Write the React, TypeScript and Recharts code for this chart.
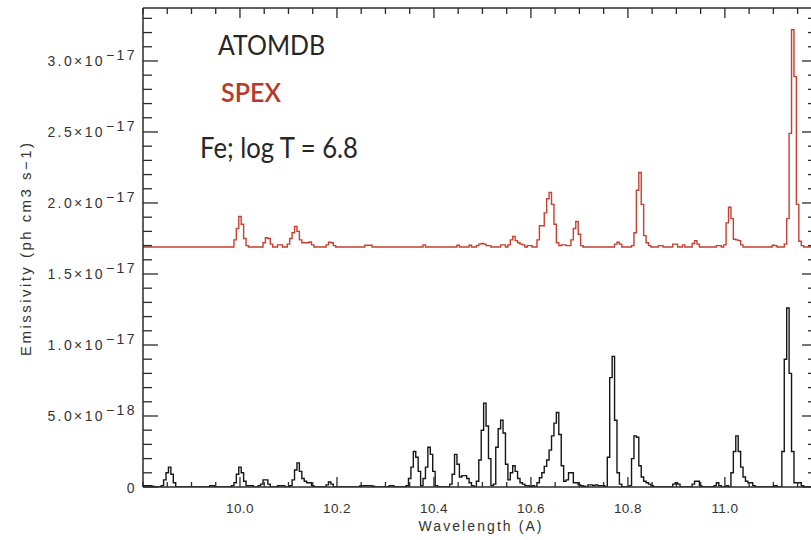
import React from "react"
import { LineChart, Line, XAxis, YAxis } from "recharts"

// spectra are binned on a regular wavelength grid (Angstrom)
const WL_START = 9.8
const WL_STEP = 0.005

// emissivity in units of 1e-18 ph cm3 s-1, one row per 0.1 A (20 bins)
const ATOMDB = [
  // 9.80
  0.1, 0.1, 0.1, 0.1, 0.05, 0, 0, 0, 0.1, 0.5, 1.0, 1.4, 0.9, 0.3, 0, 0, 0, 0, 0, 0,
  // 9.90
  0, 0, 0, 0, 0, 0, 0, 0, 0.1, 0.1, 0, 0, 0, 0, 0, 0, 0, 0.1, 0.3, 0.9,
  // 10.00
  1.4, 1.0, 0.4, 0.1, 0.1, 0.1, 0, 0, 0.1, 0.2, 0.5, 0.5, 0.2, 0, 0, 0, 0.1, 0.1, 0.1, 0,
  // 10.10
  0, 0.1, 0.5, 1.2, 1.7, 1.1, 0.6, 0.4, 0.3, 0.3, 0.1, 0, 0, 0, 0, 0, 0.15, 0.35, 0.2, 0,
  // 10.20
  0, 0, 0, 0, 0, 0, 0, 0, 0, 0, 0.1, 0.1, 0.1, 0.1, 0.1, 0.05, 0, 0, 0, 0,
  // 10.30
  0, 0, 0.1, 0.1, 0, 0, 0, 0, 0, 0.1, 0.6, 1.4, 2.5, 2.1, 1.1, 0.1, 0.6, 1.4, 2.8, 2.3,
  // 10.40
  1.1, 0.1, 0, 0, 0, 0, 0, 0.2, 0.9, 2.3, 1.6, 0.7, 0.8, 0.8, 0.6, 0.3, 0.1, 0, 0.4, 1.9,
  // 10.50
  4.0, 5.9, 4.3, 2.0, 0.1, 0.2, 2.8, 4.1, 4.7, 3.8, 1.6, 0.5, 1.0, 1.5, 1.1, 0.6, 0.3, 0.2, 0.1, 0.1,
  // 10.60
  0, 0.1, 0, 0.3, 0.65, 1.0, 1.45, 1.9, 2.6, 3.6, 4.5, 5.25, 3.7, 1.5, 0.4, 0.5, 1.0, 1.0, 0.3, 0.3,
  // 10.70
  0.15, 0.1, 0.05, 0, 0.15, 0.15, 0.1, 0.15, 0.1, 0.1, 0.1, 0, 2.1, 7.7, 9.2, 4.7, 1.0, 0.2, 0, 0,
  // 10.80
  0, 0.1, 2.0, 3.6, 3.5, 1.5, 0.7, 0.4, 0.3, 0.2, 0.1, 0, 0, 0, 0, 0, 0, 0, 0, 0.2,
  // 10.90
  0.3, 0.2, 0, 0, 0, 0, 0, 0.2, 0.4, 0.4, 0.1, 0, 0, 0, 0, 0, 0.1, 0.3, 0.1, 0,
  // 11.00
  0, 0.1, 0, 1.0, 2.5, 3.6, 2.5, 1.4, 0.7, 0.4, 0.3, 0.3, 0.1, 0, 0, 0, 0, 0, 0, 0,
  // 11.10
  0, 0.1, 0, 0, 2.5, 9.0, 12.6, 8.0, 2.5, 0.3, 0.3, 0.3, 0.1, 0, 0, 0, 0, 0, 0,
]

const SPEX = [
  // 9.80
  0, 0, 0, 0, 0, 0, 0, 0, 0, 0, 0, 0, 0, 0, 0, 0, 0, 0, 0, 0,
  // 9.90
  0, 0, 0, 0, 0, 0, 0, 0, 0, 0, 0, 0, 0, 0, 0, 0, 0, 0, 0.5, 1.3,
  // 10.00
  2.15, 1.6, 0.6, 0.1, 0, 0, 0, 0, 0, 0, 0.3, 0.65, 0.6, 0.2, 0, 0, 0.15, 0.15, 0, 0,
  // 10.10
  0.2, 0.6, 1.0, 1.45, 1.1, 0.5, 0.3, 0.3, 0.3, 0.35, 0.15, 0, 0, 0, 0, 0, 0.15, 0.33, 0.3, 0.1,
  // 10.20
  0, 0, 0, 0, 0, 0, 0, 0, 0, 0, 0, 0, 0.12, 0.12, 0.12, 0, 0, 0, 0, 0,
  // 10.30
  0, 0, 0, 0, 0, 0, 0, 0, 0, 0, 0, 0, 0, 0, 0, 0, 0.15, 0, 0, 0,
  // 10.40
  0, 0, 0, 0, 0, 0, 0, 0, 0, 0, 0.12, 0, 0, 0, 0, 0.12, 0, 0, 0.1, 0.2,
  // 10.50
  0.25, 0.2, 0.1, 0.1, 0, 0, 0, 0, 0.15, 0.15, 0, 0.15, 0.5, 0.75, 0.45, 0.3, 0.2, 0.15, 0, 0.1,
  // 10.60
  0.1, 0, 0, 0.5, 1.5, 1.5, 2.4, 3.4, 3.85, 3.0, 1.6, 0.3, 0.1, 0.15, 0.15, 0.1, 0.1, 0.5, 1.3, 1.8,
  // 10.70
  0.9, 0.1, 0, 0, 0, 0, 0, 0, 0, 0, 0, 0, 0, 0, 0, 0.2, 0.33, 0.2, 0, 0,
  // 10.80
  0, 0, 0.1, 1.0, 4.0, 5.25, 3.0, 0.8, 0.3, 0.1, 0, 0, 0, 0.1, 0.1, 0, 0, 0, 0, 0.2,
  // 10.90
  0.2, 0, 0, 0.15, 0, 0, 0, 0.25, 0.45, 0.2, 0, 0, 0, 0, 0, 0, 0, 0.1, 0.1, 0,
  // 11.00
  0.15, 1.7, 2.8, 2.0, 0.55, 0.5, 0.45, 0.15, 0, 0, 0, 0, 0, 0, 0, 0, 0, 0, 0, 0,
  // 11.10
  0.12, 0.1, 0, 0, 0, 0.2, 2.0, 8.0, 15.3, 12.0, 3.0, 0.4, 0.1, 0, 0, 0, 0, 0, 0,
]

// SPEX is drawn shifted up so the two spectra don't overlap
const SPEX_OFFSET = 16.9

const X_TICKS = [10.0, 10.2, 10.4, 10.6, 10.8, 11.0]
const Y_TICKS = [0, 5, 10, 15, 20, 25, 30] // 1e-18 units

const X_DOMAIN = [9.8, 11.19]
const Y_DOMAIN = [0, 33.73]

const AXIS = "#2b2b2b"
const LABEL = "#333"
const BLACK = "#161616"
const RED = "#c5402f"

const data = ATOMDB.map((v, i) => ({
  wl: +(WL_START + i * WL_STEP).toFixed(3),
  atomdb: v,
  spex: SPEX[i] + SPEX_OFFSET,
}))

// minor ticks every 0.05 A and every 1e-18
const xMinor = Array.from({ length: 28 }, (_, i) => +(9.8 + i * 0.05).toFixed(2))
const yMinor = Array.from({ length: 34 }, (_, i) => i)

const isMajorX = (v: number) => X_TICKS.some((t) => Math.abs(t - v) < 1e-6)

function yTickText(v: number): [string, string] {
  if (v === 0) return ["0", ""]
  if (v < 10) return [`${v.toFixed(1)}×10`, "−18"]
  return [`${(v / 10).toFixed(1)}×10`, "−17"]
}

const BottomTick = ({ x, y, payload }: any) => {
  const major = isMajorX(payload.value)
  return (
    <g>
      <line x1={x} x2={x} y1={y} y2={y - (major ? 10 : 5)} stroke={AXIS} strokeWidth={1.3} />
      {major && (
        <text x={x} y={y + 26} textAnchor="middle" fontSize={13.5} fill={LABEL} fontFamily="Liberation Sans" letterSpacing={0.4}>
          {payload.value.toFixed(1)}
        </text>
      )}
    </g>
  )
}

const TopTick = ({ x, y, payload }: any) => {
  const major = isMajorX(payload.value)
  return <line x1={x} x2={x} y1={y} y2={y + (major ? 10 : 6)} stroke={AXIS} strokeWidth={1.3} />
}

const LeftTick = ({ x, y, payload }: any) => {
  const v = payload.value
  const major = Y_TICKS.includes(v)
  const [main, sup] = yTickText(v)
  return (
    <g>
      <line x1={x} x2={x + (major ? 15 : 9)} y1={y} y2={y} stroke={AXIS} strokeWidth={1.3} />
      {major && (
        <text x={x - 6} y={y + 5.5} textAnchor="end" fontSize={14} fill={LABEL} fontFamily="Liberation Sans" letterSpacing={2.4}>
          {main}
          {sup && <tspan dy={-6.7} dx={1}>{sup}</tspan>}
        </text>
      )}
    </g>
  )
}

const RightTick = ({ x, y, payload }: any) => {
  const major = Y_TICKS.includes(payload.value)
  return <line x1={x} x2={x - (major ? 15 : 9)} y1={y} y2={y} stroke={AXIS} strokeWidth={1.3} />
}

export default function App() {
  return (
    <div style={{ position: "relative", width: 811, height: 540, overflow: "hidden", background: "#fff" }}>
      <style>{"body{margin:0}"}</style>
      <LineChart width={827} height={540} data={data} margin={{ top: 7, right: 0, bottom: 0, left: 0 }}>
        <XAxis
          xAxisId="bottom"
          dataKey="wl"
          type="number"
          domain={X_DOMAIN}
          allowDataOverflow
          ticks={xMinor}
          interval={0}
          height={53}
          tickSize={0}
          tickMargin={0}
          tickLine={false}
          axisLine={{ stroke: AXIS, strokeWidth: 1.5 }}
          tick={(p: any) => <BottomTick {...p} />}
        />
        <XAxis
          xAxisId="top"
          orientation="top"
          dataKey="wl"
          type="number"
          domain={X_DOMAIN}
          allowDataOverflow
          ticks={xMinor}
          interval={0}
          height={1}
          tickSize={0}
          tickMargin={0}
          tickLine={false}
          axisLine={{ stroke: AXIS, strokeWidth: 1.5 }}
          tick={(p: any) => <TopTick {...p} />}
        />
        <YAxis
          yAxisId="left"
          type="number"
          domain={Y_DOMAIN}
          allowDataOverflow
          ticks={yMinor}
          interval={0}
          width={143}
          tickSize={0}
          tickMargin={0}
          tickLine={false}
          axisLine={{ stroke: AXIS, strokeWidth: 1.5 }}
          tick={(p: any) => <LeftTick {...p} />}
        />
        <YAxis
          yAxisId="right"
          orientation="right"
          type="number"
          domain={Y_DOMAIN}
          allowDataOverflow
          ticks={yMinor}
          interval={0}
          width={10}
          tickSize={0}
          tickMargin={0}
          tickLine={false}
          axisLine={{ stroke: AXIS, strokeWidth: 1.5 }}
          tick={(p: any) => <RightTick {...p} />}
        />
        <Line
          xAxisId="bottom"
          yAxisId="left"
          dataKey="spex"
          type="step"
          stroke={RED}
          strokeWidth={1.4}
          dot={false}
          isAnimationActive={false}
        />
        <Line
          xAxisId="bottom"
          yAxisId="left"
          dataKey="atomdb"
          type="step"
          stroke={BLACK}
          strokeWidth={1.4}
          dot={false}
          isAnimationActive={false}
        />
      </LineChart>
      <svg width={811} height={540} style={{ position: "absolute", left: 0, top: 0, pointerEvents: "none" }}>
        <text
          x={31}
          y={249.5}
          transform="rotate(-90 31 249.5)"
          textAnchor="middle"
          fontSize={15}
          fill={LABEL}
          fontFamily="Liberation Sans"
          textLength={213}
          lengthAdjust="spacing"
        >
          Emissivity (ph cm3 s−1)
        </text>
        <text x={480} y={531} textAnchor="middle" fontSize={14} fill={LABEL} fontFamily="Liberation Sans" textLength={123} lengthAdjust="spacing">
          Wavelength (A)
        </text>
        <text x={218} y={55} fontSize={26} fill="#262626" fontFamily="Lato" textLength={107} lengthAdjust="spacingAndGlyphs">
          ATOMDB
        </text>
        <text x={221} y={101.5} fontSize={26} fill="#b8392c" fontFamily="Lato" fontWeight={600} textLength={60} lengthAdjust="spacingAndGlyphs">
          SPEX
        </text>
        <text x={200} y={158} fontSize={29} fill="#262626" fontFamily="Lato" textLength={158} lengthAdjust="spacingAndGlyphs">
          Fe; log T = 6.8
        </text>
      </svg>
    </div>
  )
}
